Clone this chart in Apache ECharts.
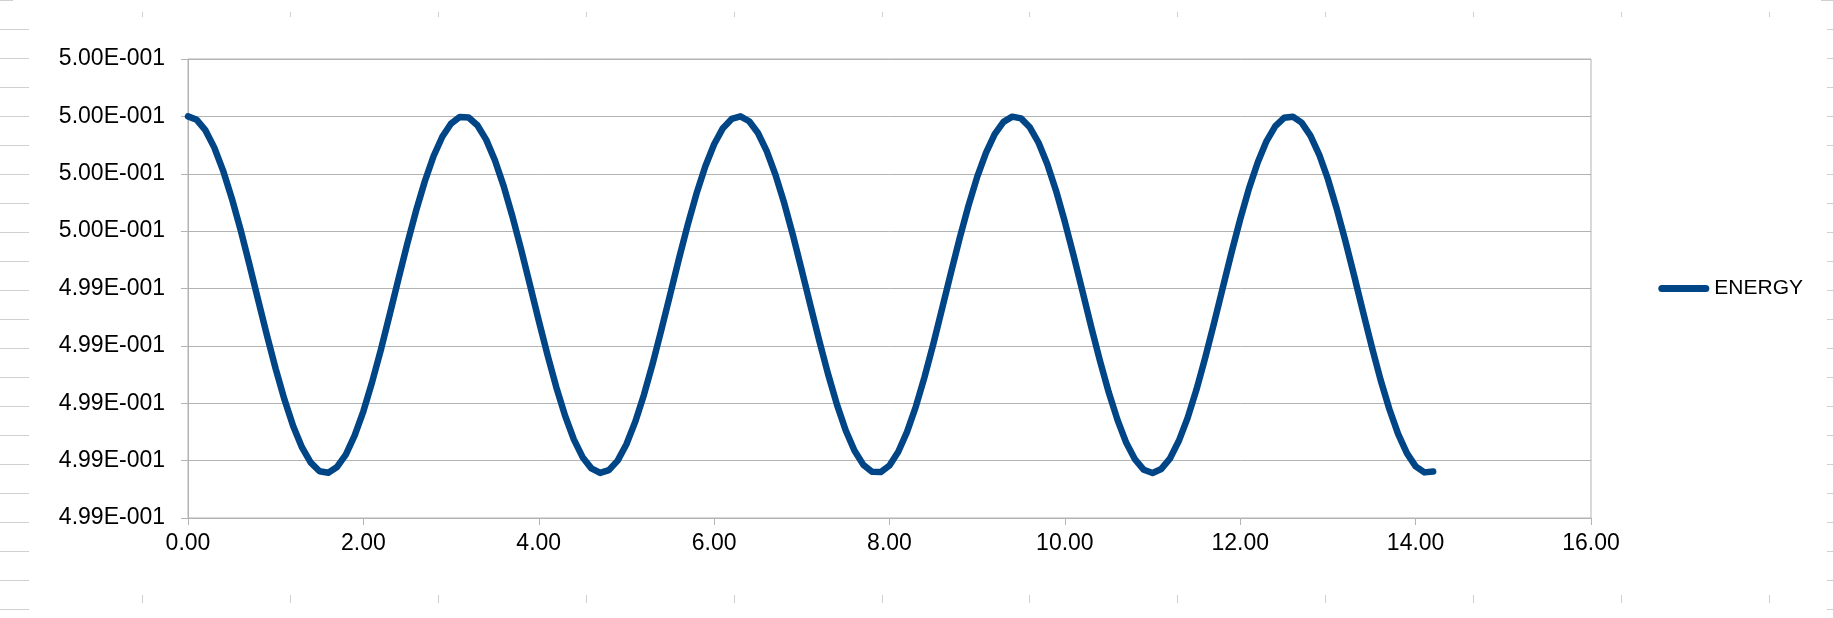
<!DOCTYPE html>
<html>
<head>
<meta charset="utf-8">
<script src="https://cdn.jsdelivr.net/npm/echarts@6/dist/echarts.min.js"></script>
<style>
html,body{margin:0;padding:0;background:#fff;}
#chart{width:1833px;height:618px;}
</style>
</head>
<body>
<div id="chart"></div>
<script>
var seriesName = 'ENERGY';

var timeValues = [
0.0,0.1,0.2,0.3,0.4,0.5,0.6,0.7,0.8,0.9,1.0,1.1,1.2,1.3,1.4,1.5,1.6,1.7,1.8,1.9,
2.0,2.1,2.2,2.3,2.4,2.5,2.6,2.7,2.8,2.9,3.0,3.1,3.2,3.3,3.4,3.5,3.6,3.7,3.8,3.9,
4.0,4.1,4.2,4.3,4.4,4.5,4.6,4.7,4.8,4.9,5.0,5.1,5.2,5.3,5.4,5.5,5.6,5.7,5.8,5.9,
6.0,6.1,6.2,6.3,6.4,6.5,6.6,6.7,6.8,6.9,7.0,7.1,7.2,7.3,7.4,7.5,7.6,7.7,7.8,7.9,
8.0,8.1,8.2,8.3,8.4,8.5,8.6,8.7,8.8,8.9,9.0,9.1,9.2,9.3,9.4,9.5,9.6,9.7,9.8,9.9,
10.0,10.1,10.2,10.3,10.4,10.5,10.6,10.7,10.8,10.9,11.0,11.1,11.2,11.3,11.4,11.5,11.6,11.7,11.8,11.9,
12.0,12.1,12.2,12.3,12.4,12.5,12.6,12.7,12.8,12.9,13.0,13.1,13.2,13.3,13.4,13.5,13.6,13.7,13.8,13.9,
14.0,14.1,14.2
];

var energyValues = [
0.4995600,0.4995588,0.4995551,0.4995491,0.4995411,0.4995314,0.4995204,0.4995084,0.4994960,0.4994837,
0.4994720,0.4994613,0.4994520,0.4994446,0.4994393,0.4994363,0.4994358,0.4994378,0.4994421,0.4994487,
0.4994572,0.4994674,0.4994787,0.4994909,0.4995033,0.4995155,0.4995270,0.4995373,0.4995461,0.4995529,
0.4995575,0.4995598,
0.4995596,0.4995569,0.4995519,0.4995447,0.4995357,0.4995251,0.4995135,0.4995012,0.4994888,0.4994768,
0.4994656,0.4994557,0.4994474,0.4994412,0.4994373,0.4994357,0.4994367,0.4994400,0.4994457,0.4994535,
0.4994630,0.4994739,0.4994858,0.4994981,0.4995105,0.4995223,0.4995332,0.4995426,0.4995503,0.4995559,
0.4995591,
0.4995600,0.4995583,0.4995542,0.4995479,0.4995396,0.4995297,0.4995184,0.4995063,0.4994939,0.4994817,
0.4994701,0.4994596,0.4994506,0.4994435,0.4994386,0.4994361,0.4994360,0.4994383,0.4994431,0.4994500,
0.4994588,0.4994692,0.4994807,0.4994930,0.4995054,0.4995175,0.4995288,0.4995389,0.4995473,0.4995538,
0.4995581,0.4995599,
0.4995593,0.4995562,0.4995508,0.4995433,0.4995340,0.4995232,0.4995114,0.4994991,0.4994867,0.4994748,
0.4994638,0.4994542,0.4994462,0.4994404,0.4994368,0.4994357,0.4994371,0.4994408,0.4994469,0.4994549,
0.4994647,0.4994758,0.4994878,0.4995002,0.4995125,0.4995242,0.4995349,0.4995440,0.4995514,0.4995566,
0.4995595,
0.4995599,0.4995578,0.4995533,0.4995467,0.4995381,0.4995278,0.4995164,0.4995043,0.4994919,0.4994797,
0.4994682,0.4994580,0.4994493,0.4994426,0.4994380,0.4994359,0.4994362
];

var xTickLabels = ['0.00','2.00','4.00','6.00','8.00','10.00','12.00','14.00','16.00'];
var yTickLabels = ['4.99E-001','4.99E-001','4.99E-001','4.99E-001','4.99E-001',
                   '5.00E-001','5.00E-001','5.00E-001','5.00E-001'];

var chart = echarts.init(document.getElementById('chart'), null, {renderer: 'canvas'});

var points = timeValues.map(function (t, i) { return [t, energyValues[i]]; });

// faint spreadsheet cell-grid marks around the chart (decoration)
var deco = [];
var decoColor = '#d0d0d0';
for (var k = 0; k <= 20; k++) {
  var yy = Math.round(29.3 + 29 * k) + 0.5;
  deco.push({type: 'line', silent: true, shape: {x1: 0, y1: yy, x2: 29, y2: yy}, style: {stroke: decoColor, lineWidth: 1}});
  deco.push({type: 'line', silent: true, shape: {x1: 1827, y1: yy, x2: 1833, y2: yy}, style: {stroke: decoColor, lineWidth: 1}});
}
for (var j = 0; j <= 11; j++) {
  var xx = Math.round(141.7 + 147.96 * j) + 0.5;
  deco.push({type: 'line', silent: true, shape: {x1: xx, y1: 12, x2: xx, y2: 17}, style: {stroke: decoColor, lineWidth: 1}});
  deco.push({type: 'line', silent: true, shape: {x1: xx, y1: 595, x2: xx, y2: 603}, style: {stroke: decoColor, lineWidth: 1}});
}
deco.push({type: 'line', silent: true, shape: {x1: 0, y1: 0.5, x2: 13, y2: 0.5}, style: {stroke: decoColor, lineWidth: 1}});
deco.push({type: 'line', silent: true, shape: {x1: 1821, y1: 0.5, x2: 1833, y2: 0.5}, style: {stroke: decoColor, lineWidth: 1}});

var option = {
  animation: false,
  backgroundColor: '#ffffff',
  textStyle: {fontFamily: 'Liberation Sans, Arial, sans-serif'},
  graphic: deco,
  grid: {
    left: 188, top: 59, right: 242, bottom: 100,
    show: true, borderColor: '#b3b3b3', borderWidth: 1, backgroundColor: 'transparent'
  },
  legend: {
    show: true,
    right: 30, top: 278,
    padding: 0,
    itemWidth: 51, itemHeight: 7,
    data: [{
      name: seriesName,
      icon: 'path://M3.5,0 L47.5,0 A3.5,3.5 0 0 1 47.5,7 L3.5,7 A3.5,3.5 0 0 1 3.5,0 Z',
      itemStyle: {color: '#004586'}
    }],
    textStyle: {color: '#000', fontSize: 21, fontFamily: 'Liberation Sans, Arial, sans-serif'}
  },
  xAxis: {
    type: 'value',
    min: 0, max: 16, interval: 2,
    axisLine: {show: true, lineStyle: {color: '#b3b3b3', width: 1}},
    axisTick: {show: true, length: 7, lineStyle: {color: '#b3b3b3'}},
    splitLine: {show: false},
    axisLabel: {
      color: '#000', fontSize: 23, margin: 14,
      fontFamily: 'Liberation Sans, Arial, sans-serif',
      formatter: function (v, i) { return xTickLabels[i]; }
    }
  },
  yAxis: {
    type: 'value',
    min: 0.49942, max: 0.49958, interval: 0.00002,
    axisLine: {show: true, lineStyle: {color: '#b3b3b3', width: 1}},
    axisTick: {show: true, length: 7, lineStyle: {color: '#b3b3b3'}},
    splitLine: {show: true, lineStyle: {color: '#b3b3b3', width: 1}},
    axisLabel: {
      color: '#000', fontSize: 23, margin: 23,
      fontFamily: 'Liberation Sans, Arial, sans-serif',
      formatter: function (v, i) { return yTickLabels[i]; }
    }
  },
  series: [{
    name: seriesName,
    type: 'line',
    data: points,
    showSymbol: false,
    symbol: 'none',
    smooth: false,
    clip: false,
    lineStyle: {color: '#004586', width: 6.5, cap: 'round', join: 'round'},
    itemStyle: {color: '#004586'}
  }]
};
chart.setOption(option);
</script>
</body>
</html>
